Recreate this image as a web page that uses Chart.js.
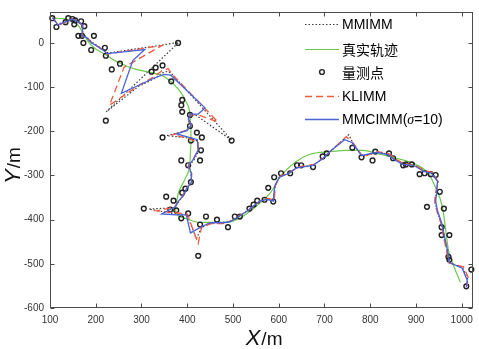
<!DOCTYPE html>
<html>
<head>
<meta charset="utf-8">
<style>
  html, body { margin: 0; padding: 0; background: #fff; }
</style>
<script src="https://cdn.jsdelivr.net/npm/chart.js@4.4.0/dist/chart.umd.min.js"></script>
</head>
<body>
<canvas id="myChart" width="479" height="349"></canvas>
<script>
// tick labels
var xTicks = [100, 200, 300, 400, 500, 600, 700, 800, 900, 1000];
var yTicks = [-600, -500, -400, -300, -200, -100, 0];

// true trajectory [x, y]
var truePath = [[105,56],[130,55],[150,50],[165,35],[175,16],[192,-7],[222,-27],[251,-45],[288,-60],[322,-67],[353,-78],[381,-105],[398,-134],[406,-163],[408,-194],[408,-230],[406,-268],[396,-306],[380,-342],[374,-373],[376,-386],[396,-397],[424,-406],[489,-406],[517,-395],[553,-368],[582,-339],[605,-301],[636,-270],[668,-252],[711,-246],[750,-243],[785,-243],[813,-250],[856,-261],[900,-275],[928,-297],[943,-328],[958,-373],[965,-424],[971,-469],[980,-498],[997,-542]];

// measurements
var measured = [[105,56],[114,36],[134,47],[140,56],[149,54],[155,51],[153,42],[168,49],[175,38],[162,16],[170,16],[173,0],[196,16],[190,-16],[220,-11],[222,-29],[253,-47],[235,-60],[222,-176],[322,-65],[331,-56],[346,-51],[365,-87],[380,0],[389,-129],[387,-141],[389,-156],[406,-163],[406,-188],[346,-214],[421,-203],[432,-214],[497,-221],[408,-221],[430,-243],[428,-266],[387,-266],[402,-277],[408,-315],[396,-330],[389,-339],[354,-348],[370,-357],[305,-375],[363,-377],[376,-379],[387,-397],[402,-386],[441,-393],[424,-482],[428,-411],[465,-400],[489,-417],[504,-393],[515,-393],[536,-375],[545,-366],[553,-357],[569,-355],[588,-359],[577,-328],[590,-304],[605,-295],[625,-295],[640,-277],[649,-277],[675,-281],[696,-257],[705,-250],[761,-237],[781,-259],[805,-266],[811,-246],[841,-250],[850,-261],[872,-277],[878,-275],[891,-275],[908,-297],[919,-295],[932,-297],[943,-299],[952,-337],[924,-371],[961,-375],[956,-417],[956,-435],[973,-435],[971,-484],[973,-491],[1021,-513],[1010,-551]];

// MMIMM estimate
var mmimm = [[106,57],[116,42],[134,48],[149,54],[159,50],[166,45],[172,39],[172,27],[170,17],[179,15],[192,1],[205,-7],[218,-16],[227,-23],[381,1],[223,-156],[294,-98],[326,-82],[345,-68],[358,-64],[366,-70],[498,-221],[418,-163],[406,-163],[401,-175],[410,-188],[396,-199],[355,-210],[403,-215],[423,-222],[425,-245],[414,-266],[404,-278],[408,-297],[410,-316],[397,-333],[391,-346],[381,-360],[373,-373],[316,-376],[379,-388],[399,-388],[420,-443],[432,-417],[451,-408],[477,-406],[494,-404],[512,-393],[533,-379],[546,-368],[559,-357],[576,-353],[589,-357],[592,-323],[602,-303],[624,-294],[641,-281],[659,-279],[676,-276],[697,-261],[713,-245],[753,-208],[763,-228],[782,-256],[803,-251],[816,-247],[840,-252],[853,-263],[872,-274],[896,-276],[918,-290],[935,-294],[948,-314],[944,-341],[942,-359],[946,-381],[955,-408],[961,-437],[968,-471],[973,-497],[1002,-509],[1013,-535],[1011,-551]];

// KLIMM estimate
var klimm = [[106,57],[118,40],[134,47],[147,55],[157,51],[166,44],[172,40],[172,26],[170,15],[180,13],[193,-1],[206,-9],[218,-18],[226,-25],[344,-6],[262,-55],[230,-141],[296,-95],[325,-78],[345,-63],[358,-58],[368,-72],[467,-179],[424,-163],[407,-163],[402,-174],[410,-187],[398,-198],[368,-208],[404,-216],[424,-226],[423,-244],[412,-265],[402,-279],[410,-296],[408,-316],[396,-332],[390,-347],[380,-359],[372,-372],[333,-380],[380,-385],[400,-387],[424,-454],[431,-418],[452,-409],[478,-409],[495,-403],[513,-392],[534,-378],[547,-367],[560,-357],[577,-352],[590,-356],[593,-322],[603,-302],[625,-293],[642,-280],[660,-278],[677,-275],[698,-260],[714,-244],[748,-212],[765,-230],[784,-258],[800,-252],[817,-246],[841,-251],[854,-262],[873,-273],[897,-276],[919,-289],[936,-293],[949,-315],[942,-342],[941,-360],[946,-382],[955,-409],[960,-438],[967,-472],[972,-498],[1004,-507],[1014,-530],[1012,-550]];

// MMCIMM estimate
var mmcimm = [[106,57],[117,41],[135,48],[148,54],[158,50],[165,45],[171,41],[171,27],[169,16],[178,14],[191,0],[204,-8],[217,-17],[225,-24],[307,-15],[281,-40],[256,-114],[327,-80],[349,-71],[364,-73],[439,-147],[424,-161],[407,-161],[403,-172],[409,-185],[400,-198],[377,-206],[404,-214],[422,-219],[424,-242],[413,-264],[403,-277],[409,-295],[409,-315],[398,-331],[392,-345],[381,-358],[374,-371],[344,-387],[377,-389],[398,-389],[407,-430],[431,-416],[450,-407],[478,-407],[493,-405],[511,-394],[532,-380],[545,-369],[558,-358],[575,-354],[588,-358],[591,-324],[601,-304],[623,-295],[640,-282],[658,-280],[675,-277],[696,-262],[712,-246],[744,-219],[761,-226],[781,-255],[802,-250],[815,-248],[839,-253],[852,-264],[871,-275],[895,-277],[917,-291],[934,-295],[947,-313],[945,-340],[943,-358],[947,-380],[956,-407],[962,-436],[969,-470],[973,-497],[1001,-510],[1012,-537],[1010,-553]];

function xy(arr) {
    return arr.map(function (p) { return { x: p[0], y: p[1] }; });
}

var axisColor = '#4a4a4a';
var tickFont = { family: 'Liberation Sans, Arial, sans-serif', size: 10 };

// box around the plot with inward tick marks on all four sides
var framePlugin = {
    id: 'frame',
    afterDraw: function (chart) {
        var c = chart.ctx, a = chart.chartArea;
        var sx = chart.scales.x, sy = chart.scales.y;
        var L = Math.round(a.left) + 0.5, R = Math.round(a.right) - 0.5;
        var T = Math.round(a.top) + 0.5, B = Math.round(a.bottom) - 0.5;
        c.save();
        c.strokeStyle = axisColor;
        c.lineWidth = 1;
        c.setLineDash([]);
        c.strokeRect(L, T, R - L, B - T);
        c.beginPath();
        xTicks.forEach(function (v) {
            var px = Math.round(sx.getPixelForValue(v)) + 0.5;
            c.moveTo(px, B); c.lineTo(px, B - 4);
            c.moveTo(px, T); c.lineTo(px, T + 4);
        });
        yTicks.forEach(function (v) {
            var py = Math.round(sy.getPixelForValue(v)) + 0.5;
            c.moveTo(L, py); c.lineTo(L + 4, py);
            c.moveTo(R, py); c.lineTo(R - 4, py);
        });
        c.stroke();

        // axis titles: italic letter + "/m"
        c.fillStyle = '#111';
        c.textBaseline = 'alphabetic';
        var cx = (a.left + a.right) / 2 + 2;
        c.font = 'italic 22px Liberation Sans, Arial, sans-serif';
        var w1 = c.measureText('X').width;
        c.font = '19px Liberation Sans, Arial, sans-serif';
        var w2 = c.measureText('/m').width;
        var x0 = cx - (w1 + w2) / 2;
        c.font = 'italic 22px Liberation Sans, Arial, sans-serif';
        c.fillText('X', x0, 345);
        c.font = '19px Liberation Sans, Arial, sans-serif';
        c.fillText('/m', x0 + w1 + 1, 345);

        c.translate(20, (a.top + a.bottom) / 2 + 6);
        c.rotate(-Math.PI / 2);
        c.font = 'italic 22px Liberation Sans, Arial, sans-serif';
        w1 = c.measureText('Y').width;
        c.font = '19px Liberation Sans, Arial, sans-serif';
        w2 = c.measureText('/m').width;
        x0 = -(w1 + w2) / 2;
        c.font = 'italic 22px Liberation Sans, Arial, sans-serif';
        c.fillText('Y', x0, 0);
        c.font = '19px Liberation Sans, Arial, sans-serif';
        c.fillText('/m', x0 + w1 + 1, 0);
        c.restore();
    }
};

// legend in the upper right of the plot, no box
var legendPlugin = {
    id: 'insideLegend',
    afterDraw: function (chart) {
        var c = chart.ctx;
        var rows = [24, 49, 72, 96, 119];
        c.save();
        chart.data.datasets.forEach(function (ds, i) {
            var y = rows[i];
            if (ds.showLine) {
                c.strokeStyle = ds.borderColor;
                c.lineWidth = ds.borderWidth;
                c.setLineDash(ds.borderDash || []);
                c.beginPath();
                c.moveTo(305, y + 0.5);
                c.lineTo(339, y + 0.5);
                c.stroke();
            } else {
                c.setLineDash([]);
                c.strokeStyle = ds.borderColor;
                c.lineWidth = ds.borderWidth;
                c.beginPath();
                c.arc(322, y, ds.pointRadius, 0, Math.PI * 2);
                c.stroke();
            }
            c.fillStyle = '#000';
            c.textBaseline = 'middle';
            var label = ds.label;
            var parts = label.split('σ');
            var tx = 342;
            var normal = '14px Liberation Sans, Arial, "Noto Sans CJK SC", sans-serif';
            var cjk = '14px "Noto Sans CJK SC", sans-serif';
            c.font = /[\u4e00-\u9fff]/.test(label) ? cjk : normal;
            c.fillText(parts[0], tx, y + 1);
            if (parts.length > 1) {
                tx += c.measureText(parts[0]).width;
                c.font = 'italic 14px Liberation Serif, "Times New Roman", serif';
                c.fillText('σ', tx, y + 1);
                tx += c.measureText('σ').width;
                c.font = normal;
                c.fillText(parts[1], tx, y + 1);
            }
        });
        c.restore();
    }
};

var ctx = document.getElementById('myChart').getContext('2d');
var chart = new Chart(ctx, {
    type: 'scatter',
    data: {
        datasets: [{
            label: 'MMIMM',
            data: xy(mmimm),
            showLine: true,
            borderColor: '#3a3a3a',
            borderWidth: 1.2,
            borderDash: [1.5, 2],
            pointRadius: 0,
            order: 5
        }, {
            label: '真实轨迹',
            data: xy(truePath),
            showLine: true,
            borderColor: '#6cc94c',
            borderWidth: 1.2,
            pointRadius: 0,
            cubicInterpolationMode: 'monotone',
            tension: 0.4,
            order: 4
        }, {
            label: '量测点',
            data: xy(measured),
            showLine: false,
            borderColor: '#222',
            backgroundColor: 'rgba(255,255,255,0)',
            borderWidth: 1.4,
            pointRadius: 2.4,
            clip: false,
            order: 3
        }, {
            label: 'KLIMM',
            data: xy(klimm),
            showLine: true,
            borderColor: '#f25a3c',
            borderWidth: 1.3,
            borderDash: [7, 4],
            pointRadius: 0,
            order: 2
        }, {
            label: 'MMCIMM(σ=10)',
            data: xy(mmcimm),
            showLine: true,
            borderColor: '#4a62d8',
            borderWidth: 1.3,
            pointRadius: 0,
            order: 1
        }]
    },
    options: {
        responsive: false,
        animation: false,
        devicePixelRatio: 1,
        layout: { padding: { top: 9, right: 1, left: 0, bottom: 0 } },
        plugins: {
            legend: { display: false },
            tooltip: { enabled: false }
        },
        elements: { line: { tension: 0 } },
        scales: {
            x: {
                type: 'linear',
                min: 100,
                max: 1025,
                grid: { display: false, drawTicks: false },
                border: { display: false },
                ticks: {
                    font: tickFont,
                    color: '#333',
                    padding: 6,
                    maxRotation: 0,
                    callback: function (v) { return String(v); }
                },
                afterBuildTicks: function (s) { s.ticks = xTicks.map(function (v) { return { value: v }; }); },
                afterFit: function (s) { s.height = 41; }
            },
            y: {
                type: 'linear',
                min: -600,
                max: 70,
                grid: { display: false, drawTicks: false },
                border: { display: false },
                ticks: {
                    font: tickFont,
                    color: '#333',
                    padding: 6,
                    callback: function (v) { return String(v); }
                },
                afterBuildTicks: function (s) { s.ticks = yTicks.map(function (v) { return { value: v }; }); },
                afterFit: function (s) { s.width = 50; }
            }
        }
    },
    plugins: [framePlugin, legendPlugin]
});
</script>
</body>
</html>
